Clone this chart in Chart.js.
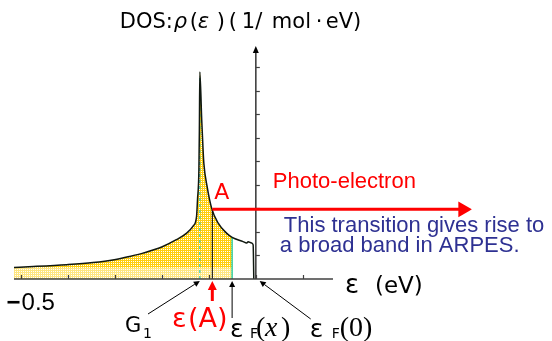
<!DOCTYPE html>
<html lang="en">
<head>
<meta charset="UTF-8">
<title>DOS</title>
<script src="https://cdn.jsdelivr.net/npm/chart.js@4.4.0/dist/chart.umd.min.js"></script>
<style>
  html, body { margin: 0; padding: 0; background: #fff; }
</style>
</head>
<body>
<canvas id="dosChart" width="552" height="341"></canvas>
<script>
// density of states curve: energy (eV) vs rho(eps)
const energy = [-0.516, -0.473, -0.402, -0.346, -0.301, -0.268, -0.240, -0.200, -0.169, -0.147, -0.133, -0.126,
                -0.124, -0.121, -0.120, -0.119, -0.115, -0.1126, -0.1105, -0.1035, -0.094, -0.080, -0.0623,
                -0.0504, -0.027, -0.0198, -0.0164, -0.0091, -0.0057, -0.0043];
const dos = [0.49, 0.53, 0.61, 0.70, 0.82, 0.96, 1.10, 1.36, 1.67, 1.95, 2.26, 2.65,
             3.36, 4.63, 6.3, 8.8, 6.75, 5.69, 4.92, 3.92, 3.01, 2.37, 1.95,
             1.77, 1.59, 1.53, 1.58, 1.53, 1.45, 0];

const xTicks = [-0.5, -0.4, -0.3, -0.2, -0.1, 0, 0.1];
const yTicks = [1, 2, 3, 4, 5, 6, 7, 8, 9];
const xRange = [-0.514, 0.587];
const xAxisEnd = 0.164;
const yRange = [0, 9.9];

// marked energies
const eG1 = -0.119;
const eA = -0.0925;
const dosA = 2.96;
const eFx = -0.0504;
const eF0 = 0.004;
const photoEnd = 0.44;

const curve = energy.map((e, i) => ({ x: e, y: dos[i] }));
const occupied = curve.filter(p => p.x <= eFx);
const dosFx = dos[energy.indexOf(eFx)];

const canvas = document.getElementById('dosChart');
const ctx = canvas.getContext('2d');

// dotted yellow fills for the occupied states
function dots(ink) {
  const tile = document.createElement('canvas');
  tile.width = 2; tile.height = 2;
  const t = tile.getContext('2d');
  t.fillStyle = ink; t.fillRect(0, 0, 2, 2);
  t.fillStyle = '#FFFFFF'; t.fillRect(1, 1, 1, 1);
  return ctx.createPattern(tile, 'repeat');
}
const dotFill = dots('#FFCF10');
const paleFill = dots('#FFE680');

const SANS = '"Liberation Sans", Arial, sans-serif';
const DEJA = '"DejaVu Sans", Verdana, sans-serif';
const SERIF = '"Liberation Serif", "Times New Roman", serif';
const ARROW_INDEX = 7;

function arrow(c, x1, y1, x2, y2, color, width, len, half) {
  const ang = Math.atan2(y2 - y1, x2 - x1);
  const bx = x2 - Math.cos(ang) * len, by = y2 - Math.sin(ang) * len;
  c.strokeStyle = color; c.fillStyle = color; c.lineWidth = width;
  c.beginPath(); c.moveTo(x1, y1); c.lineTo(bx, by); c.stroke();
  c.beginPath();
  c.moveTo(x2, y2);
  c.lineTo(bx + Math.sin(ang) * half, by - Math.cos(ang) * half);
  c.lineTo(bx - Math.sin(ang) * half, by + Math.cos(ang) * half);
  c.closePath(); c.fill();
}

function text(c, str, x, y, font, color) {
  c.font = font; c.fillStyle = color;
  c.fillText(str, x, y);
  return x + c.measureText(str).width;
}

const decor = {
  id: 'dosDecor',
  beforeDatasetDraw(chart, args) {
    if (args.index !== ARROW_INDEX) return;
    const c = chart.ctx, x = chart.scales.x, y = chart.scales.y;
    const x0 = x.getPixelForValue(0), y0 = y.getPixelForValue(0);
    c.save();
    c.strokeStyle = '#404040'; c.lineWidth = 1.6;
    c.beginPath(); c.moveTo(x.left, y0); c.lineTo(x.getPixelForValue(xAxisEnd), y0); c.stroke();
    c.beginPath(); c.moveTo(x0, y0); c.lineTo(x0, y.top + 5); c.stroke();
    c.fillStyle = '#000';
    c.beginPath(); c.moveTo(x0, y.top); c.lineTo(x0 - 3, y.top + 7); c.lineTo(x0 + 3, y.top + 7); c.closePath(); c.fill();
    c.lineWidth = 1.2;
    xTicks.forEach(v => {
      const px = Math.round(x.getPixelForValue(v)) + 0.5;
      c.beginPath(); c.moveTo(px, y0); c.lineTo(px, y0 - 4); c.stroke();
    });
    yTicks.forEach(v => {
      const py = Math.round(y.getPixelForValue(v)) + 0.5;
      c.beginPath(); c.moveTo(x0, py); c.lineTo(x0 + 4, py); c.stroke();
    });
    c.restore();
  },
  afterDatasetsDraw(chart) {
    const c = chart.ctx, x = chart.scales.x, y = chart.scales.y;
    const x0 = x.getPixelForValue(0), y0 = y.getPixelForValue(0);
    const xA = x.getPixelForValue(eA), yA = y.getPixelForValue(dosA);
    const xEnd = x.getPixelForValue(xAxisEnd);
    c.save();
    c.textBaseline = 'alphabetic';

    // title of the vertical axis
    const ty = y.top - 18;
    [['DOS:', -136, ''], ['ρ', -82, 'italic '], ['(', -66, ''], ['ε', -58, 'italic '], [')', -39, ''],
     ['(', -27, ''], ['1/', -14, ''], ['mol', 16, ''], ['·', 60, ''], ['eV)', 70, '']]
      .forEach(([s, dx, st]) => text(c, s, x0 + dx, ty, st + '21px ' + DEJA, '#000'));

    // horizontal axis title
    text(c, 'ε', xEnd + 12, y0 + 14, '26px ' + DEJA, '#000');
    text(c, '(eV)', xEnd + 42, y0 + 14, '23px ' + DEJA, '#000');

    // leftmost tick value
    const xm = x.getPixelForValue(-0.5);
    text(c, '−', xm - 14, y0 + 31, 'bold 24px ' + SANS, '#000');
    text(c, '0.5', xm + 1, y0 + 31, '24px ' + SANS, '#000');

    // photo-emission labels
    text(c, 'A', xA + 2, yA - 10, '22px ' + DEJA, '#FF0000');
    text(c, 'Photo-electron', x0 + 17, yA - 21, '22px ' + SANS, '#FF0000');
    text(c, 'This transition gives rise to', x0 + 28, yA + 23, '22px ' + SANS, '#2E3192');
    text(c, 'a broad band in ARPES.', x0 + 24, yA + 43, '22px ' + SANS, '#2E3192');

    // markers under the energy axis
    const xG = x.getPixelForValue(eG1), xFx = x.getPixelForValue(eFx), xF0 = x.getPixelForValue(eF0);
    arrow(c, 148, y0 + 35, xG, y0 + 2, '#000', 1, 6, 3);
    arrow(c, xA, y0 + 22, xA, y0 + 2, '#FF0000', 3, 9, 4.5);
    arrow(c, xFx, y0 + 39, xFx, y0 + 2, '#000', 1, 6, 3);
    arrow(c, xF0 + 53, y0 + 40, xF0 + 2, y0 + 2, '#000', 1, 6, 3);

    text(c, 'G', 125, y0 + 53, '21px ' + DEJA, '#000');
    text(c, '1', 143, y0 + 59, '14px ' + DEJA, '#000');
    text(c, 'ε', 172, y0 + 48, '27px ' + DEJA, '#FF0000');
    text(c, '(A)', 188, y0 + 48, '27px ' + DEJA, '#FF0000');

    text(c, 'ε', xFx - 2, y0 + 58, '25px ' + DEJA, '#000');
    text(c, 'F', xFx + 18, y0 + 59, '14px ' + DEJA, '#000');
    text(c, '(', xFx + 24, y0 + 57, '28px ' + SERIF, '#000');
    text(c, 'x', xFx + 33, y0 + 57, 'italic 28px ' + SERIF, '#000');
    text(c, ')', xFx + 49, y0 + 57, '28px ' + SERIF, '#000');

    text(c, 'ε', xF0 + 52, y0 + 58, '25px ' + DEJA, '#000');
    text(c, 'F', xF0 + 74, y0 + 59, '14px ' + DEJA, '#000');
    text(c, '(0)', xF0 + 82, y0 + 57, '28px ' + SERIF, '#000');
    c.restore();
  }
};

new Chart(ctx, {
  type: 'scatter',
  data: {
    datasets: [
      { // 0: filled occupied states
        data: occupied, showLine: true, fill: 'origin', backgroundColor: dotFill,
        borderWidth: 0, pointRadius: 0, cubicInterpolationMode: 'monotone', order: 10
      },
      { // 1: pale band below the band bottom level
        data: [{ x: energy[0], y: dos[0] }, { x: eFx, y: dos[0] }], showLine: true, fill: 'origin',
        backgroundColor: paleFill, borderWidth: 0, pointRadius: 0, order: 9
      },
      { // 2: left edge of the filling
        data: [{ x: energy[0], y: 0 }, { x: energy[0], y: dos[0] }], showLine: true,
        borderColor: '#33CC99', borderWidth: 1.5, pointRadius: 0, order: 8
      },
      { // 3: right edge of the filling at eF(x)
        data: [{ x: eFx, y: 0 }, { x: eFx, y: dosFx }], showLine: true,
        borderColor: '#33CC99', borderWidth: 1.5, pointRadius: 0, order: 7
      },
      { // 4: G1 singularity
        data: [{ x: eG1, y: 0 }, { x: eG1, y: 8.6 }], showLine: true,
        borderColor: '#33CCBB', borderWidth: 1.2, borderDash: [3, 3], pointRadius: 0, order: 6
      },
      { // 5: DOS curve
        data: curve, showLine: true, borderColor: '#101810', borderWidth: 1.5,
        pointRadius: 0, cubicInterpolationMode: 'monotone', order: 5
      },
      { // 6: level eps(A)
        data: [{ x: eA, y: 0 }, { x: eA, y: dosA }], showLine: true,
        borderColor: '#000', borderWidth: 1, pointRadius: 0, order: 4
      },
      { // 7: photo-electron arrow
        data: [{ x: eA, y: dosA }, { x: photoEnd, y: dosA }], showLine: true,
        borderColor: '#FF0000', backgroundColor: '#FF0000', borderWidth: 3,
        pointStyle: 'triangle', pointRadius: [0, 6], rotation: 90, order: 0
      }
    ]
  },
  options: {
    responsive: false,
    animation: false,
    layout: { padding: { left: 14, right: 20, top: 46, bottom: 62 } },
    scales: {
      x: { type: 'linear', min: xRange[0], max: xRange[1], display: false },
      y: { type: 'linear', min: yRange[0], max: yRange[1], display: false }
    },
    plugins: { legend: { display: false }, tooltip: { enabled: false } }
  },
  plugins: [decor]
});
</script>
</body>
</html>
